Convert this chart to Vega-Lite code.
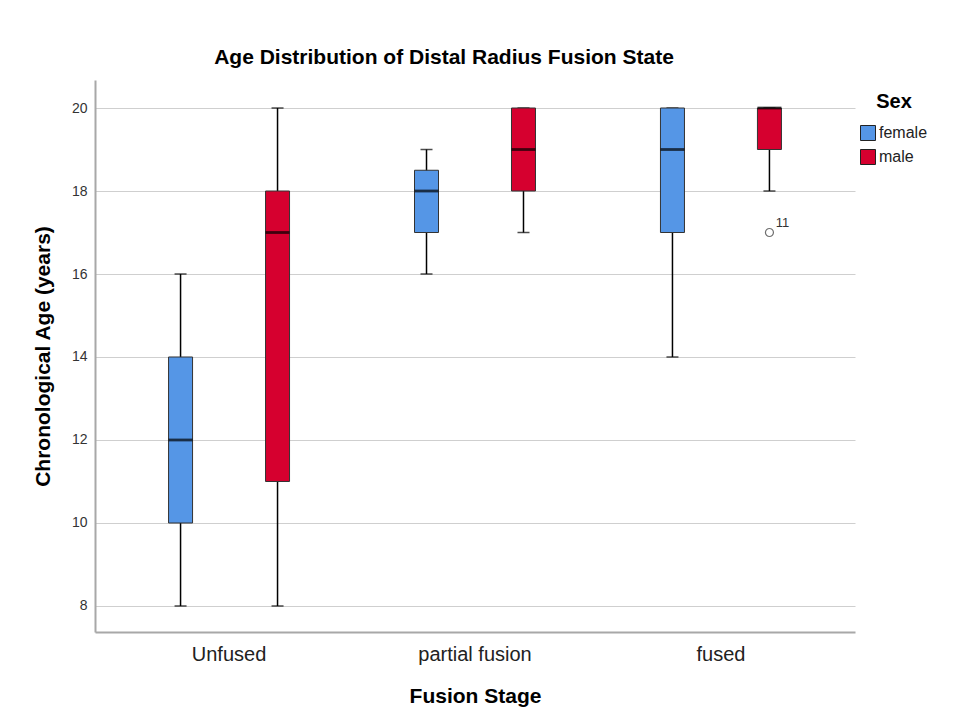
{
  "$schema": "https://vega.github.io/schema/vega-lite/v6.json",
  "autosize": {"type": "none"},
  "width": 760,
  "height": 552,
  "padding": {"left": 95, "top": 80, "right": 122, "bottom": 91},
  "background": "white",
  "config": {
    "font": "Liberation Sans",
    "view": {"stroke": null}
  },
  "title": {
    "text": "Age Distribution of Distal Radius Fusion State",
    "fontSize": 21,
    "fontWeight": "bold",
    "color": "#000000",
    "anchor": "middle",
    "dx": -31,
    "offset": 12
  },
  "datasets": {
    "stats": [
      {"stage": "Unfused", "sex": "female", "min": 8, "q1": 10, "median": 12, "q3": 14, "max": 16},
      {"stage": "Unfused", "sex": "male", "min": 8, "q1": 11, "median": 17, "q3": 18, "max": 20},
      {"stage": "partial fusion", "sex": "female", "min": 16, "q1": 17, "median": 18, "q3": 18.5, "max": 19},
      {"stage": "partial fusion", "sex": "male", "min": 17, "q1": 18, "median": 19, "q3": 20, "max": 20},
      {"stage": "fused", "sex": "female", "min": 14, "q1": 17, "median": 19, "q3": 20, "max": 20},
      {"stage": "fused", "sex": "male", "min": 18, "q1": 19, "median": 20, "q3": 20, "max": 20}
    ],
    "outliers": [
      {"stage": "fused", "sex": "male", "age": 17, "case": "11"}
    ]
  },
  "encoding": {
    "x": {
      "field": "stage",
      "type": "nominal",
      "sort": ["Unfused", "partial fusion", "fused"],
      "scale": {"domain": ["Unfused", "partial fusion", "fused"], "paddingInner": 0, "paddingOuter": 0.045},
      "axis": {
        "title": "Fusion Stage",
        "titleFontSize": 21,
        "titleFontWeight": "bold",
        "titleColor": "#000000",
        "titlePadding": 21,
        "labelFontSize": 20,
        "labelColor": "#222222",
        "labelPadding": 12,
        "labelAngle": 0,
        "ticks": false,
        "grid": false,
        "domainColor": "#a8a8a8",
        "domainWidth": 2
      }
    },
    "xOffset": {
      "field": "sex",
      "type": "nominal",
      "scale": {"domain": ["female", "male"], "paddingInner": 0, "paddingOuter": 0.268}
    }
  },
  "layer": [
    {
      "data": {"name": "stats"},
      "mark": {"type": "rule", "color": "#000000", "strokeWidth": 1.5},
      "encoding": {
        "y": {
          "field": "min",
          "type": "quantitative",
          "scale": {"domain": [7.373, 20.675], "nice": false, "zero": false},
          "axis": {
            "title": "Chronological Age (years)",
            "titleFontSize": 21,
            "titleFontWeight": "bold",
            "titleColor": "#000000",
            "titlePadding": 18,
            "values": [8, 10, 12, 14, 16, 18, 20],
            "labelFontSize": 14,
            "labelColor": "#333333",
            "labelPadding": 8,
            "ticks": false,
            "grid": true,
            "gridColor": "#cfcfcf",
            "gridWidth": 1.2,
            "domainColor": "#a8a8a8",
            "domainWidth": 2
          }
        },
        "y2": {"field": "max"}
      }
    },
    {
      "data": {"name": "stats"},
      "mark": {"type": "tick", "color": "#000000", "size": 12, "thickness": 1.5},
      "encoding": {"y": {"field": "min", "type": "quantitative"}}
    },
    {
      "data": {"name": "stats"},
      "mark": {"type": "tick", "color": "#000000", "size": 12, "thickness": 1.5},
      "encoding": {"y": {"field": "max", "type": "quantitative"}}
    },
    {
      "data": {"name": "stats"},
      "mark": {"type": "bar", "width": 24, "stroke": "#333333", "strokeWidth": 1},
      "encoding": {
        "y": {"field": "q1", "type": "quantitative"},
        "y2": {"field": "q3"},
        "color": {
          "field": "sex",
          "type": "nominal",
          "scale": {"domain": ["female", "male"], "range": ["#5596e6", "#d6002f"]},
          "legend": {
            "title": "Sex",
            "orient": "none",
            "legendX": 765,
            "legendY": 12,
            "titleFontSize": 20,
            "titleFontWeight": "bold",
            "titleColor": "#000000",
            "titleAnchor": "middle",
            "titlePadding": 13,
            "labelFontSize": 16,
            "labelColor": "#222222",
            "labelOffset": 3,
            "symbolType": "square",
            "symbolSize": 225,
            "symbolStrokeColor": "#222222",
            "symbolStrokeWidth": 1,
            "symbolOpacity": 1,
            "rowPadding": 4
          }
        }
      }
    },
    {
      "data": {"name": "stats"},
      "mark": {"type": "tick", "color": "#000000", "size": 24, "thickness": 2.8},
      "encoding": {"y": {"field": "median", "type": "quantitative"}}
    },
    {
      "data": {"name": "outliers"},
      "mark": {"type": "point", "shape": "circle", "filled": false, "size": 64, "color": "#333333", "strokeWidth": 1.2},
      "encoding": {"y": {"field": "age", "type": "quantitative"}}
    },
    {
      "data": {"name": "outliers"},
      "mark": {"type": "text", "dx": 13, "dy": -10, "fontSize": 13, "color": "#333333"},
      "encoding": {
        "y": {"field": "age", "type": "quantitative"},
        "text": {"field": "case"}
      }
    }
  ]
}
